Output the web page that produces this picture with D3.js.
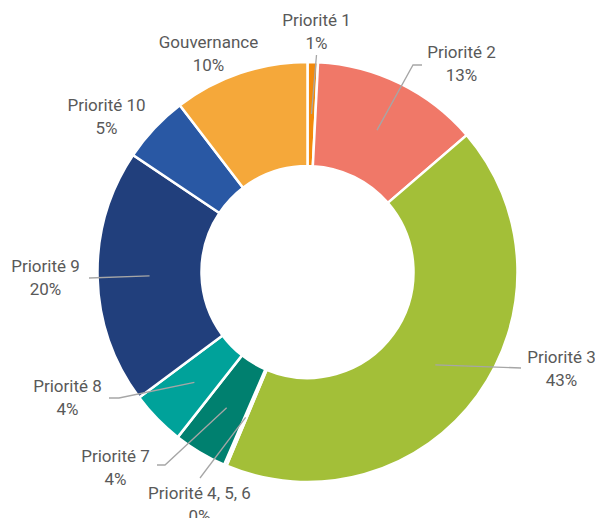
<!DOCTYPE html>
<html><head><meta charset="utf-8">
<script src="https://cdn.jsdelivr.net/npm/d3@7"></script>
<style>body{margin:0;background:#fff}svg{display:block}</style>
</head><body>
<svg id="c" width="595" height="518"></svg>
<script>
const categories = ["Priorité 1","Priorité 2","Priorité 3","Priorité 4, 5, 6","Priorité 7","Priorité 8","Priorité 9","Priorité 10","Gouvernance"];
const values = [0.8, 12.9, 42.6, 0.2, 4.1, 4.2, 19.6, 5.2, 10.4];
const colors = ["#F28A0C","#F07868","#A3BF38","#3D63C4","#00806F","#00A29A","#213F7C","#2958A4","#F5A83A"];
// label layout (offsets from chart centre): baseline of first line, leader points (elbow/end)
const labelPos = [
  {x:9,  y:-246, pts:[[9,-217]]},
  {x:154,y:-214, pts:[[105.5,-207],[114.5,-207]]},
  {x:254,y:91,   pts:[[213.5,96]]},
  {x:-108,y:227, pts:[[-107.5,206]]},
  {x:-192,y:190, pts:[[-142.5,193],[-150.5,193]]},
  {x:-240,y:120, pts:[[-188.5,126],[-198.5,126]]},
  {x:-262,y:0,   pts:[[-218.5,6]]},
  {x:-201,y:-161,pts:null},
  {x:-99, y:-224,pts:null}
];

const cx=307.5,cy=272,R=210,r0=106;
const svg=d3.select("#c");
const g=svg.append("g").attr("transform",`translate(${cx},${cy})`);
const data=categories.map((c,i)=>({name:c,value:values[i],color:colors[i],lab:labelPos[i]}));
const total=d3.sum(values);
const pie=d3.pie().value(d=>d.value).sort(null);
const arc=d3.arc().innerRadius(r0).outerRadius(R);
const arcs=pie(data);
g.selectAll("path.s").data(arcs).join("path").attr("class","s")
 .attr("d",arc).attr("fill",d=>d.data.color).attr("stroke","#fff").attr("stroke-width",2.5).attr("stroke-linejoin","miter");

const line=d3.line();
arcs.forEach(a=>{
  const L=a.data.lab; if(!L.pts) return;
  const c=arc.centroid(a);
  g.append("path").attr("d",line([c,...L.pts])).attr("fill","none").attr("stroke","#A6A6A6").attr("stroke-width",1.3);
});
arcs.forEach(a=>{
  const L=a.data.lab;
  const pct=Math.round(a.data.value/total*100)+"%";
  const t=g.append("text").attr("text-anchor","middle").attr("font-family","Roboto, sans-serif").attr("font-size",17).attr("fill","#595959");
  t.append("tspan").attr("x",L.x).attr("y",L.y).text(a.data.name);
  t.append("tspan").attr("x",L.x).attr("y",L.y+23).text(pct);
});
</script>
</body></html>
